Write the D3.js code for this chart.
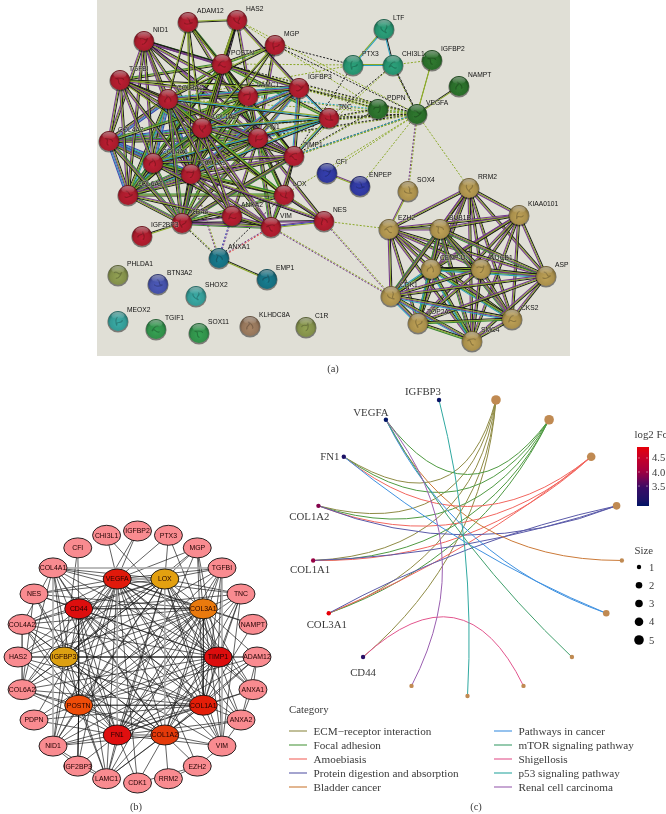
<!DOCTYPE html>
<html>
<head>
<meta charset="utf-8">
<script src="https://cdn.jsdelivr.net/npm/d3@7"></script>
<style>
  body { margin: 0; background: #fff; }
  svg { display: block; }
  .str { font-family: "Liberation Sans", sans-serif; font-size: 6.7px; fill: #111; paint-order: stroke; stroke: #e0dfd6; stroke-width: 1px; stroke-opacity: 0.55; }
  .ser { font-family: "Liberation Serif", serif; fill: #3a3a3a; }
  .net { font-family: "Liberation Sans", sans-serif; font-size: 6.9px; fill: #200; text-anchor: middle; }
</style>
</head>
<body>
<div id="wrapper"></div>
<script>
//*************************Data, panel (a) STRING network
const stringNames = ["NID1","ADAM12","HAS2","MGP","POSTN","TGFBI","COL3A1","LAMC1","IGFBP3","TNC","COL1A2","FN1","TIMP1","COL4A2","COL4A1","COL1A1","COL6A2","LOX","CD44","ANXA2","VIM","NES","IGF2BP3",
  "CFI","ENPEP","LTF","PTX3","CHI3L1","IGFBP2","NAMPT","PDPN","VEGFA",
  "SOX4","RRM2","KIAA0101","EZH2","BUB1B","CENP-U","NUCB1","ASP","CDK1","TOP2A","CKS2","SMC4",
  "ANXA1","EMP1","PHLDA1","BTN3A2","SHOX2","MEOX2","TGIF1","SOX11","KLHDC8A","C1R"]
// layout, same order as stringNames
const stringU = [47,91,140,178,125,23,71,151,202,232,105,161,197,12,56,94,31,187,85,135,174,227,45,
  230,263,287,256,296,335,362,281,320,
  311,372,422,292,343,334,384,449,294,321,415,375,
  122,170,21,61,99,21,59,102,153,209]
const stringV = [41,22,20,45,64,80,99,96,88,118,128,138,156,141,163,174,195,195,223,216,227,221,236,
  173,186,29,65,65,60,86,109,114,
  191,188,215,229,229,269,269,276,296,323,319,341,
  258,279,275,284,296,321,329,333,326,327]
const stringGroup = ["red","red","red","red","red","red","red","red","red","red","red","red","red","red","red","red","red","red","red","red","red","red","red",
  "blue","blue","teal","teal","teal","green","green","green","green",
  "tan","tan","tan","tan","tan","tan","tan","tan","tan","tan","tan","tan",
  "ocean","ocean","moss","iris","aqua","aqua","leaf","leaf","clay","moss"]

// [evidence strands, hub, partners]
const stringEdges = [
  ["kopgcb","COL1A1","COL1A2 COL3A1 COL4A1 COL4A2 COL6A2"],
  ["kopgcb","COL1A2","COL3A1 COL4A1 COL4A2 COL6A2"],
  ["kopcb","COL4A1","COL4A2 COL6A2 COL3A1"],
  ["kopcb","COL4A2","COL6A2 COL3A1"],
  ["kogc","COL6A2","COL3A1"],
  ["kopg","FN1","COL1A1 COL1A2 COL3A1 COL4A1 COL4A2 COL6A2 TIMP1 LAMC1 POSTN CD44 VIM LOX"],
  ["kopc","FN1","IGFBP3 TNC"],
  ["kop","FN1","NID1 TGFBI ANXA2 NES MGP ADAM12 HAS2"],
  ["kog","POSTN","COL1A1 COL1A2 COL3A1 TGFBI TNC LAMC1 HAS2 ADAM12 NID1 COL4A1 COL6A2 TIMP1 MGP LOX"],
  ["kog","POSTN","IGFBP3 CD44"],
  ["kop","NID1","COL1A1 COL1A2 COL3A1 COL4A1 COL4A2 COL6A2 LAMC1 IGFBP3"],
  ["kp","NID1","TIMP1 POSTN"],
  ["kop","TGFBI","COL1A1 COL1A2 COL3A1 COL4A1 COL4A2 COL6A2 LAMC1 TIMP1"],
  ["ko","TGFBI","IGFBP3 LOX"],
  ["kog","LAMC1","COL1A1 COL1A2 COL3A1 COL4A1 COL4A2 COL6A2 IGFBP3 TIMP1 CD44"],
  ["kopc","IGFBP3","COL1A1 COL1A2 COL3A1 TIMP1"],
  ["kc","IGFBP3","TNC"],
  ["kpo","HAS2","IGFBP3 CD44 POSTN"],
  ["ko","HAS2","ADAM12 COL1A1 COL1A2"],
  ["ko","MGP","COL1A1 COL3A1 COL1A2"],
  ["ko","ADAM12","COL1A1 COL1A2 COL3A1 TIMP1"],
  ["kop","TIMP1","COL1A1 COL1A2 COL3A1 LOX CD44 VIM COL4A1 COL6A2"],
  ["kco","TNC","COL1A1 COL1A2 COL3A1 TIMP1 COL4A1"],
  ["kog","LOX","COL1A1 COL1A2 COL3A1 COL4A1 COL6A2 VIM NES CD44"],
  ["kopg","CD44","COL1A1 COL1A2 COL3A1 COL4A1 COL4A2 COL6A2 VIM TIMP1"],
  ["kp","CD44","ANXA2 NES"],
  ["ko","IGF2BP3","CD44"],
  ["kop","VIM","COL1A1 COL1A2 COL3A1 COL4A1 COL6A2 ANXA2"],
  ["pbo","VIM","NES"],
  ["kpo","NES","COL1A1 LOX"],
  ["kop","ANXA2","COL1A1 COL1A2 COL3A1"],
  ["po","CFI","ENPEP"],
  ["oc","PTX3","LTF CHI3L1"],
  ["kc","LTF","CHI3L1"],
  ["o","VEGFA","IGFBP2"],
  ["ko","VEGFA","NAMPT"],
  ["ko","ANXA1","EMP1"],
  ["po","EZH2","SOX4"],
  ["kop","RRM2","KIAA0101 EZH2 BUB1B CENP-U NUCB1 ASP CDK1 TOP2A CKS2 SMC4"],
  ["kop","KIAA0101","EZH2 BUB1B CENP-U NUCB1 ASP CDK1 TOP2A CKS2 SMC4"],
  ["kop","EZH2","BUB1B CENP-U NUCB1 ASP CDK1 TOP2A CKS2 SMC4"],
  ["kopg","BUB1B","CENP-U NUCB1 ASP CDK1 TOP2A CKS2 SMC4"],
  ["kogc","CENP-U","NUCB1 ASP CDK1 TOP2A CKS2 SMC4"],
  ["kop","NUCB1","ASP CDK1 TOP2A CKS2 SMC4"],
  ["kop","ASP","CDK1 TOP2A CKS2 SMC4"],
  ["kopc","CDK1","TOP2A CKS2 SMC4"],
  ["kog","TOP2A","CKS2 SMC4"],
  ["kop","CKS2","SMC4"]
]
// dashed links between clusters
const stringDashed = [
  ["ok","VEGFA","IGFBP3 TNC TIMP1 FN1 POSTN CHI3L1 COL1A2"],
  ["oc","VEGFA","LAMC1 TIMP1"],
  ["o","VEGFA","PDPN ENPEP RRM2 CFI LOX COL3A1 IGFBP2"],
  ["op","VEGFA","SOX4"],
  ["ok","PDPN","IGFBP3 TNC TIMP1"],
  ["o","PDPN","HAS2"],
  ["o","PTX3","POSTN COL3A1"],
  ["k","PTX3","TIMP1 MGP"],
  ["k","CHI3L1","TNC VEGFA"],
  ["o","CHI3L1","IGFBP2 TIMP1"],
  ["o","HAS2","VEGFA"],
  ["k","MGP","VEGFA"],
  ["o","POSTN","PDPN"],
  ["op","VIM","CDK1"],
  ["op","NES","CDK1"],
  ["o","NES","EZH2"],
  ["ok","CD44","ANXA1"],
  ["pb","ANXA2","ANXA1"],
  ["rp","VIM","ANXA1"],
  ["k","LOX","ANXA1"],
  ["op","COL1A1","ANXA1"]
]

//*************************Data, panel (b) hub network
const ringOuter = ["IGFBP2","PTX3","MGP","TGFBI","TNC","NAMPT","ADAM12","ANXA1","ANXA2","VIM","EZH2","RRM2","CDK1","LAMC1","IGF2BP3","NID1","PDPN","COL6A2","HAS2","COL4A2","NES","COL4A1","CFI","CHI3L1"]
const ringInner = ["LOX","COL3A1","TIMP1","COL1A1","COL1A2","FN1","POSTN","IGFBP3","CD44","VEGFA"]
const ringInnerTone = ["#e3a010","#ea7a0e","#dc0d0d","#e41e08","#e43a0a","#df0f0f","#ee4c08","#dca012","#dd0e0e","#e0190b"]
const hubLinks = [
  ["VEGFA","IGFBP2 PTX3 MGP TGFBI TNC COL4A1 NES COL4A2 COL6A2 PDPN NID1 LAMC1 IGF2BP3 VIM ANXA1 ANXA2 NAMPT CHI3L1 CDK1 EZH2 LOX COL3A1 TIMP1 COL1A1 COL1A2 POSTN IGFBP3 CD44"],
  ["LOX","PTX3 MGP TGFBI TNC COL4A1 COL4A2 HAS2 COL6A2 NID1 LAMC1 VIM ANXA1 ANXA2 NES COL3A1 COL1A1 FN1 POSTN IGFBP3 CD44 TIMP1"],
  ["COL3A1","MGP TGFBI TNC ADAM12 COL4A1 COL4A2 HAS2 COL6A2 PDPN NID1 LAMC1 NAMPT ANXA1 VIM NES TIMP1 COL1A2 FN1 POSTN IGFBP3"],
  ["TIMP1","MGP TGFBI TNC COL4A1 COL4A2 COL6A2 HAS2 NID1 LAMC1 ANXA1 ANXA2 VIM CHI3L1 PTX3 COL1A1 COL1A2 FN1 POSTN CD44 NES"],
  ["COL1A1","MGP TGFBI TNC ADAM12 COL4A1 COL4A2 COL6A2 HAS2 PDPN NID1 LAMC1 ANXA1 ANXA2 VIM COL1A2 FN1 IGFBP3 CD44 NAMPT"],
  ["COL1A2","TGFBI TNC ADAM12 COL4A1 COL4A2 COL6A2 HAS2 NID1 LAMC1 CDK1 RRM2 EZH2 VIM ANXA2 FN1 POSTN IGFBP3 CD44"],
  ["FN1","MGP TGFBI TNC COL4A1 COL4A2 COL6A2 NID1 LAMC1 CDK1 IGF2BP3 VIM ANXA1 ANXA2 NES PDPN POSTN IGFBP3 CD44 ADAM12"],
  ["POSTN","TGFBI TNC COL4A1 COL4A2 COL6A2 HAS2 NID1 LAMC1 PDPN IGF2BP3 ADAM12 CD44"],
  ["IGFBP3","TGFBI COL4A1 COL4A2 COL6A2 NID1 LAMC1 HAS2 IGFBP2 CFI NES MGP VIM"],
  ["CD44","COL4A1 COL4A2 COL6A2 NES HAS2 NID1 LAMC1 VIM ANXA2 TNC CFI"]
]
const ringLinks = ["ADAM12 ANXA1","ADAM12 ANXA2","ANXA1 ANXA2","COL4A1 COL4A2","COL4A1 COL6A2","NES COL6A2","NID1 IGF2BP3","NID1 LAMC1","LAMC1 IGF2BP3","VIM EZH2","CDK1 EZH2","VIM ANXA2","RRM2 EZH2","TNC VIM"]
const ringHeavy = ["COL4A1 TGFBI","COL4A1 NID1","TGFBI VIM","VEGFA FN1","LOX COL1A2"]
const ringBold = ["IGFBP3 TIMP1","TIMP1 ADAM12","POSTN COL1A1","COL3A1 COL1A1","CD44 POSTN","COL4A2 COL6A2","POSTN IGF2BP3","CD44 COL3A1"]

//*************************Data, panel (c) gene concept network
const categories = ["ECM\u2212receptor interaction","Focal adhesion","Amoebiasis","Protein digestion and absorption","Bladder cancer","Pathways in cancer","mTOR signaling pathway","Shigellosis","p53 signaling pathway","Renal cell carcinoma"]
const categoryColors = ["#8f8b45","#4f9a42","#f2665f","#5a5aa8","#cb7a38","#3f91e0","#3f9f6c","#e2558d","#2fa8a0","#9a5fb0"]
const termSize = [5,5,4,3,1,2,1,1,1,1]
const genes = ["CD44","COL3A1","COL1A1","COL1A2","FN1","VEGFA","IGFBP3"]
const geneFc = [3.2,4.89,3.95,3.85,3.02,2.79,2.85]
const termGenes = [
  ["FN1","COL1A2","COL1A1","COL3A1","CD44"],
  ["VEGFA","FN1","COL1A2","COL1A1","COL3A1"],
  ["FN1","COL1A2","COL1A1","COL3A1"],
  ["COL1A2","COL1A1","COL3A1"],
  ["VEGFA"],
  ["VEGFA","FN1"],
  ["VEGFA"],
  ["CD44"],
  ["IGFBP3"],
  ["VEGFA"]
]
const fcTicks = [3.5,4,4.5]
const sizeTicks = [1,2,3,4,5]

//*************************1. Draw Canvas
const svg = d3.select("#wrapper").append("svg").attr("width",666).attr("height",814)
svg.append("rect").attr("width",666).attr("height",814).attr("fill","#fff")
const defs = svg.append("defs")

function lineOf(a,b,off) {
  const dx = b.x-a.x, dy = b.y-a.y, len = Math.hypot(dx,dy) || 1
  const nx = -dy/len*off, ny = dx/len*off
  return {x1:a.x+nx, y1:a.y+ny, x2:b.x+nx, y2:b.y+ny}
}

//*************************2. Panel (a)
const panelA = svg.append("g")
const soft = defs.append("filter").attr("id","soft").attr("x","-5%").attr("y","-5%").attr("width","110%").attr("height","110%")
soft.append("feGaussianBlur").attr("stdDeviation",0.4)

const xA = d3.scaleLinear().domain([0,473]).range([97,570])
const yA = d3.scaleLinear().domain([0,356]).range([0,356])
panelA.append("rect").attr("x",xA(0)).attr("y",yA(0)).attr("width",xA(473)-xA(0)).attr("height",yA(356)-yA(0)).attr("fill","#e0dfd6")

const strandColor = {k:"#1c1c1c",o:"#8aa828",p:"#73388a",g:"#39872f",c:"#2aa0bf",b:"#3b47b2",r:"#e23434"}
const groupColor = {red:"#a81c2c",blue:"#2f389c",teal:"#27916e",green:"#2a6c2a",tan:"#a98f4c",ocean:"#176f80",moss:"#828f4a",iris:"#4450a6",aqua:"#349a95",leaf:"#30904a",clay:"#94755a"}
const nodesA = new Map(stringNames.map((n,i) => [n,{name:n,x:xA(stringU[i]),y:yA(stringV[i]),group:stringGroup[i]}]))

const edgeLayer = panelA.append("g").attr("filter","url(#soft)")
function drawEdges(list,dash) {
  const strands = []
  list.forEach(([ev,hub,partners]) => {
    partners.split(" ").forEach(p => {
      ev.split("").forEach((c,i) => {
        const off = (i-(ev.length-1)/2)*1.05
        strands.push({c, ...lineOf(nodesA.get(hub),nodesA.get(p),off)})
      })
    })
  })
  edgeLayer.append("g").selectAll("line").data(strands).join("line")
    .attr("x1",d => d.x1).attr("y1",d => d.y1).attr("x2",d => d.x2).attr("y2",d => d.y2)
    .attr("stroke",d => strandColor[d.c])
    .attr("stroke-width",dash ? 1 : 1.05)
    .attr("stroke-dasharray",dash ? "2,1.6" : null)
}
drawEdges(stringDashed,true)
drawEdges(stringEdges,false)

// one glass gradient for every colour group
Object.entries(groupColor).forEach(([k,c]) => {
  const g = defs.append("radialGradient").attr("id","ball-"+k).attr("cx","50%").attr("cy","60%").attr("r","55%")
  g.append("stop").attr("offset","0%").attr("stop-color",d3.color(c).brighter(0.35))
  g.append("stop").attr("offset","70%").attr("stop-color",c)
  g.append("stop").attr("offset","100%").attr("stop-color",d3.color(c).darker(1))
})
const shine = defs.append("linearGradient").attr("id","shine").attr("x1",0).attr("x2",0).attr("y1",0).attr("y2",1)
shine.append("stop").attr("offset","0%").attr("stop-color","#fff").attr("stop-opacity",0.42)
shine.append("stop").attr("offset","100%").attr("stop-color","#fff").attr("stop-opacity",0.02)

const ballR = 10
const balls = panelA.append("g").attr("filter","url(#soft)").selectAll("g").data([...nodesA.values()]).join("g")
  .attr("transform",d => `translate(${d.x},${d.y})`)
balls.append("circle").attr("r",ballR+0.6).attr("cy",0.9).attr("fill","#000").attr("fill-opacity",0.45)
balls.append("circle").attr("r",ballR).attr("fill",d => `url(#ball-${d.group})`)
// small structure scribble inside each ball
balls.append("path")
  .attr("d","M-4,-2 C-1,-5 1,1 3,-2 S1,5 -2,3")
  .attr("transform",(d,i) => `rotate(${i*47})`)
  .attr("fill","none").attr("stroke",d => d3.color(groupColor[d.group]).darker(1.2))
  .attr("stroke-width",1.1).attr("stroke-opacity",0.6)
balls.append("ellipse").attr("cy",-ballR*0.55).attr("rx",ballR*0.66).attr("ry",ballR*0.36).attr("fill","url(#shine)")

panelA.append("g").selectAll("text").data([...nodesA.values()]).join("text")
  .attr("class","str")
  .attr("x",d => d.x+9).attr("y",d => d.y-9)
  .text(d => d.name)

//*************************3. Panel (b)
const xRing = d3.scaleLinear().domain([-1,1]).range([18,257])
const yRing = d3.scaleLinear().domain([-1,1]).range([531,783])
const xHub = d3.scaleLinear().domain([-1,1]).range([64,218])
const yHub = d3.scaleLinear().domain([-1,1]).range([575,739])
const angleRing = d3.scaleBand().domain(ringOuter).range([-Math.PI/24,2*Math.PI-Math.PI/24])
const angleHub = d3.scaleBand().domain(ringInner).range([0,2*Math.PI])

const nodesB = new Map()
ringOuter.forEach(n => {
  const t = angleRing(n)+angleRing.bandwidth()/2
  nodesB.set(n,{name:n,x:xRing(Math.sin(t)),y:yRing(-Math.cos(t)),fill:"#f98b90"})
})
ringInner.forEach((n,i) => {
  const t = angleHub(n)+angleHub.bandwidth()/2
  nodesB.set(n,{name:n,x:xHub(Math.sin(t)),y:yHub(-Math.cos(t)),fill:ringInnerTone[i]})
})

const panelB = svg.append("g")
const linksB = []
hubLinks.forEach(([hub,partners]) => partners.split(" ").forEach(p => linksB.push({a:hub,b:p,w:0.7,c:"#1e1e1e"})))
ringLinks.forEach(s => { const [a,b] = s.split(" "); linksB.push({a,b,w:0.7,c:"#1e1e1e"}) })
ringHeavy.forEach(s => { const [a,b] = s.split(" "); linksB.push({a,b,w:1.5,c:"#a5a5a5"}) })
ringBold.forEach(s => { const [a,b] = s.split(" "); linksB.push({a,b,w:1,c:"#111"}) })

const nodeDataB = [...nodesB.values()]
panelB.append("g").selectAll("line").data(linksB).join("line")
  .attr("x1",d => nodesB.get(d.a).x).attr("y1",d => nodesB.get(d.a).y)
  .attr("x2",d => nodesB.get(d.b).x).attr("y2",d => nodesB.get(d.b).y)
  .attr("stroke",d => d.c).attr("stroke-width",d => d.w)
panelB.append("g").selectAll("ellipse").data(nodeDataB).join("ellipse")
  .attr("cx",d => d.x).attr("cy",d => d.y).attr("rx",14).attr("ry",10)
  .attr("fill",d => d.fill).attr("stroke","#111").attr("stroke-width",0.9)
panelB.append("g").selectAll("text").data(nodeDataB).join("text")
  .attr("class","net").attr("x",d => d.x).attr("y",d => d.y+2.4)
  .text(d => d.name)

//*************************4. Panel (c)
const termNames = categories
const orderC = [...termNames,...genes]
const angleC = d3.scaleBand().domain(orderC).range([0,2*Math.PI])
const xC = d3.scaleLinear().domain([-1,1]).range([312.5,622.5])
const yC = d3.scaleLinear().domain([-1,1]).range([397.4,696])
const sizeScale = d3.scaleLinear().domain([1,2,5]).range([2.2,3.3,4.8])
const fcY = d3.scaleLinear().domain([2.79,4.89]).range([506,447])
const fcColor = d3.scaleLinear().domain([2.79,3.5,4,4.89]).range(["#001466","#3a0a66","#a00040","#e60008"]).interpolate(d3.interpolateLab)

const posC = new Map(orderC.map(n => {
  const t = angleC(n)+angleC.bandwidth()/2
  return [n,{x:xC(Math.sin(t)),y:yC(-Math.cos(t))}]
}))
const centerC = {x:xC(0),y:yC(0)}

// arc pulled toward the centre of the ring, less for chords far from it
function arcPath(a,b) {
  const mx = (a.x+b.x)/2, my = (a.y+b.y)/2
  const d = Math.hypot(centerC.x-mx,centerC.y-my) || 1
  const sag = d*(0.85-0.0033*d)
  const cx = mx+(centerC.x-mx)/d*sag*2, cy = my+(centerC.y-my)/d*sag*2
  return `M${a.x},${a.y}Q${cx},${cy} ${b.x},${b.y}`
}

const panelC = svg.append("g")
const arcsC = []
termGenes.forEach((list,i) => list.forEach(g => arcsC.push({term:categories[i],gene:g,color:categoryColors[i]})))
panelC.append("g").selectAll("path").data(arcsC).join("path")
  .attr("d",d => arcPath(posC.get(d.gene),posC.get(d.term)))
  .attr("fill","none").attr("stroke",d => d.color).attr("stroke-width",1)

panelC.append("g").selectAll("circle").data(categories).join("circle")
  .attr("cx",d => posC.get(d).x).attr("cy",d => posC.get(d).y)
  .attr("r",(d,i) => sizeScale(termSize[i])).attr("fill","#c08a52")
panelC.append("g").selectAll("circle").data(genes).join("circle")
  .attr("cx",d => posC.get(d).x).attr("cy",d => posC.get(d).y)
  .attr("r",2.2).attr("fill",(d,i) => fcColor(geneFc[i]))

const geneAnchor = {CD44:[0,19],COL3A1:[-2,15],COL1A1:[-3,13],COL1A2:[-9,14],FN1:[-14,3.5],VEGFA:[-15,-3.5],IGFBP3:[-16,-5]}
panelC.append("g").selectAll("text").data(genes).join("text")
  .attr("class","ser").attr("font-size",10.8).attr("text-anchor","middle")
  .attr("x",d => posC.get(d).x+geneAnchor[d][0]).attr("y",d => posC.get(d).y+geneAnchor[d][1])
  .text(d => d)

//colour legend
const grad = defs.append("linearGradient").attr("id","fc").attr("x1",0).attr("x2",0).attr("y1",1).attr("y2",0)
d3.range(11).forEach(i => {
  const v = fcY.domain()[0]+i/10*(fcY.domain()[1]-fcY.domain()[0])
  grad.append("stop").attr("offset",i/10).attr("stop-color",fcColor(v))
})
panelC.append("text").attr("class","ser").attr("font-size",10.8).attr("x",634.5).attr("y",438).text("log2 Fc")
panelC.append("rect").attr("x",637).attr("y",fcY.range()[1]).attr("width",12).attr("height",fcY.range()[0]-fcY.range()[1]).attr("fill","url(#fc)")
const fcG = panelC.append("g").selectAll("g").data(fcTicks).join("g").attr("transform",d => `translate(0,${fcY(d)})`)
fcG.append("line").attr("x1",638).attr("x2",640).attr("stroke","#fff").attr("stroke-opacity",0.7).attr("stroke-width",0.6)
fcG.append("line").attr("x1",646).attr("x2",648).attr("stroke","#fff").attr("stroke-opacity",0.7).attr("stroke-width",0.6)
fcG.append("text").attr("class","ser").attr("font-size",10.6).attr("x",652).attr("y",3.5).text(d => d3.format(".1f")(d))

//size legend
panelC.append("text").attr("class","ser").attr("font-size",10.8).attr("x",634.5).attr("y",554).text("Size")
const sizeRow = d3.scalePoint().domain(sizeTicks).range([567,640])
const sizeG = panelC.append("g").selectAll("g").data(sizeTicks).join("g").attr("transform",d => `translate(0,${sizeRow(d)})`)
sizeG.append("circle").attr("cx",639).attr("r",d => sizeScale(d)).attr("fill","#000")
sizeG.append("text").attr("class","ser").attr("font-size",10.6).attr("x",649).attr("y",3.5).text(d => d)

//category legend
panelC.append("text").attr("class","ser").attr("font-size",10.8).attr("x",289).attr("y",713).text("Category")
const rowY = d3.scalePoint().domain(d3.range(5)).range([731,787])
const legendC = panelC.append("g").selectAll("g").data(categories).join("g")
  .attr("transform",(d,i) => `translate(${i<5 ? 289 : 494},${rowY(i%5)})`)
legendC.append("line").attr("x1",0).attr("x2",18).attr("stroke",(d,i) => categoryColors[i]).attr("stroke-width",1.1)
legendC.append("text").attr("class","ser").attr("font-size",11.2).attr("x",24.5).attr("y",3.5).text(d => d)

//*************************5. Captions
const captions = [["(a)",333,372],["(b)",136,810],["(c)",476,810]]
svg.append("g").selectAll("text").data(captions).join("text")
  .attr("class","ser").attr("font-size",10.5).attr("text-anchor","middle")
  .attr("x",d => d[1]).attr("y",d => d[2]).text(d => d[0])
</script>
</body>
</html>
